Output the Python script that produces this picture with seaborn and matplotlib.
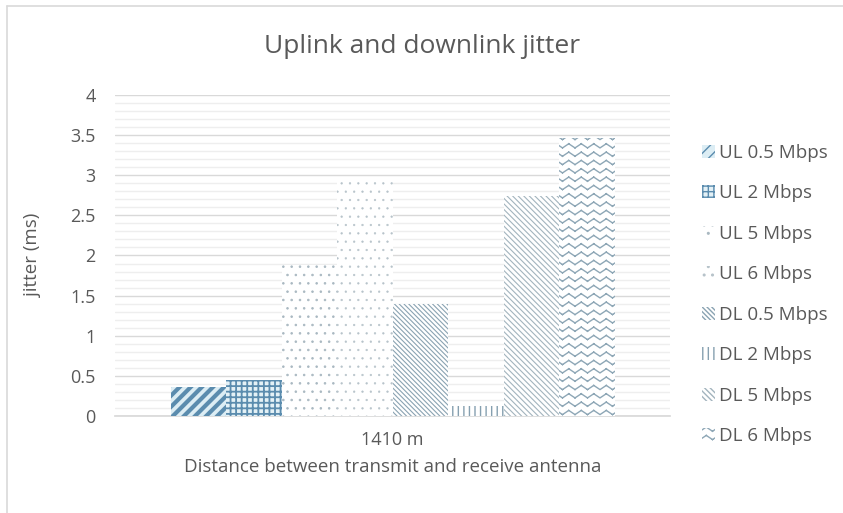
import warnings
import matplotlib
matplotlib.use("Agg")
import matplotlib.pyplot as plt
import matplotlib.hatch as mhatch
from matplotlib.path import Path
from matplotlib.lines import Line2D
from matplotlib.ticker import MultipleLocator
import numpy as np
import pandas as pd
import seaborn as sns

# Jitter measured at one antenna separation
distance = ["1410 m"]
series = ["UL 0.5 Mbps", "UL 2 Mbps", "UL 5 Mbps", "UL 6 Mbps",
          "DL 0.5 Mbps", "DL 2 Mbps", "DL 5 Mbps", "DL 6 Mbps"]
jitter_ms = [0.36, 0.45, 1.88, 2.98, 1.40, 0.13, 2.74, 3.46]
y_ticks = [0, 0.5, 1, 1.5, 2, 2.5, 3, 3.5, 4]


class ZigzagHatch(mhatch.HatchPatternBase):
    """Horizontal wavy rows built from open segments, selected with 'z'."""
    teeth = 8

    def __init__(self, hatch, density):
        self.num_rows = int(hatch.count("z") * density)
        self.num_segments = self.num_rows * self.teeth * 2
        self.num_vertices = self.num_segments * 2

    def set_vertices_and_codes(self, vertices, codes):
        n = self.teeth * 2 + 1
        xs = np.linspace(0.0, 1.0, n)
        amp = 0.25 / max(self.num_rows, 1)
        offs = np.where(np.arange(n) % 2 == 0, -amp, amp)
        rows = (np.arange(self.num_rows) + 0.5) / max(self.num_rows, 1)
        k = 0
        for y in rows:
            for j in range(n - 1):
                vertices[k] = (xs[j], y + offs[j])
                vertices[k + 1] = (xs[j + 1], y + offs[j + 1])
                codes[k] = Path.MOVETO
                codes[k + 1] = Path.LINETO
                k += 2


mhatch._hatch_types.append(ZigzagHatch)

# Fill patterns per series
hatches = ["///", "+++", "..", "..", "\\\\\\\\\\\\\\", "|||", "\\\\\\\\\\\\", "zz"]
fallback = {"zz": "xxx"}
face_colors = ["#dcedf4", "#e4f1f6", "white", "white", "white", "white", "white", "white"]
hatch_colors = ["#5b8cae", "#5b8cae", "#a9b8c1", "#b7c3ca", "#8aa3b2", "#86a0b0", "#a3b4be", "#8ea7b6"]
hatch_widths = [3.0, 1.3, 0.6, 0.4, 0.8, 1.0, 0.8, 1.0]

df = pd.DataFrame({"distance": distance * len(series), "series": series, "jitter": jitter_ms})

sns.set_theme(style="white")
plt.rcParams["font.family"] = ["Open Sans", "DejaVu Sans"]
text_color = "#595959"

fig = plt.figure(figsize=(8.43, 5.13), dpi=100)
ax = fig.add_axes([115 / 843, 97 / 513, 555 / 843, 321 / 513])

sns.barplot(data=df, x="distance", y="jitter", hue="series", hue_order=series,
            ax=ax, width=0.8, legend=False, errorbar=None)


def apply_hatch(patch, pattern):
    try:
        with warnings.catch_warnings():
            warnings.simplefilter("ignore")
            patch.set_hatch(pattern)
    except Exception:
        patch.set_hatch(fallback.get(pattern, "xx"))


handles = []
for i, container in enumerate(ax.containers):
    for bar in container:
        bar.set_facecolor(face_colors[i])
        bar.set_edgecolor(hatch_colors[i])
        bar.set_linewidth(0)
        apply_hatch(bar, hatches[i])
        if hasattr(bar, "set_hatch_linewidth"):
            bar.set_hatch_linewidth(hatch_widths[i])
        bar.set_zorder(3)
    handles.append(container[0])

ax.set_ylim(0, 4)
ax.set_xlim(-0.5, 0.5)
ax.yaxis.set_minor_locator(MultipleLocator(0.1))
ax.set_yticks(y_ticks)
ax.set_yticklabels([f"{v:g}" for v in y_ticks])
ax.grid(axis="y", which="major", color="#d9d9d9", linewidth=1.0, zorder=0)
ax.grid(axis="y", which="minor", color="#eeeeee", linewidth=1.0, zorder=0)
ax.set_axisbelow(True)
for side in ["top", "right", "left"]:
    ax.spines[side].set_visible(False)
ax.spines["bottom"].set_color("#d9d9d9")
ax.tick_params(axis="both", which="both", length=0, colors=text_color, labelsize=13)
ax.tick_params(axis="y", pad=14)
ax.tick_params(axis="x", pad=11)

fig.text(422 / 843, 1 - 47 / 513, "Uplink and downlink jitter", fontsize=19,
         color=text_color, ha="center", va="center")
ax.set_ylabel("jitter (ms)", fontsize=13.5, color=text_color)
ax.yaxis.set_label_coords(-73 / 555, 0.5)
ax.set_xlabel("Distance between transmit and receive antenna", fontsize=13.5,
              color=text_color, labelpad=6)

leg = fig.legend(handles, series, loc="center left", bbox_to_anchor=(694 / 843, 1 - 294.5 / 513),
                 frameon=False, fontsize=13.5, labelcolor=text_color, handlelength=0.7,
                 handleheight=0.7, handletextpad=0.25, labelspacing=1.2, borderaxespad=0)

# Chart frame
fig.add_artist(Line2D([7 / 843, 7 / 843], [0, 1 - 6 / 513], transform=fig.transFigure,
                      color="#d9d9d9", linewidth=1.2))
fig.add_artist(Line2D([7 / 843, 1], [1 - 6 / 513, 1 - 6 / 513], transform=fig.transFigure,
                      color="#d9d9d9", linewidth=1.2))

fig.savefig("out.png", dpi=100)
